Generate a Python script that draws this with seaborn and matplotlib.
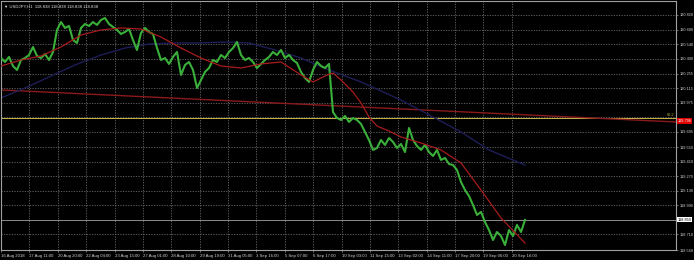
import numpy as np
import pandas as pd
import matplotlib
matplotlib.use("Agg")
import matplotlib.pyplot as plt
import seaborn as sns

# ---------------- data ----------------
symbol_title = "\u25BC USDJPY,H1  118.838 118.838 118.838 118.838"

# hourly closes, sampled (every ~4.7 bars)
close = [
    120.406, 120.368, 120.416, 120.329, 120.291, 120.387, 120.406, 120.435, 120.512, 120.426,
    120.406, 120.445, 120.387, 120.464, 120.676, 120.752, 120.695, 120.714, 120.579, 120.551,
    120.695, 120.733, 120.714, 120.752, 120.724, 120.772, 120.791, 120.733, 120.704, 120.676,
    120.637, 120.656, 120.685, 120.579, 120.483, 120.647, 120.695, 120.656, 120.637, 120.502,
    120.387, 120.406, 120.349, 120.416, 120.464, 120.243, 120.339, 120.368, 120.291, 120.118,
    120.195, 120.272, 120.310, 120.387, 120.368, 120.435, 120.406, 120.464, 120.502, 120.560,
    120.435, 120.387, 120.406, 120.368, 120.310, 120.349, 120.387, 120.416, 120.464, 120.435,
    120.483, 120.406, 120.435, 120.387, 120.358, 120.272, 120.214, 120.176, 120.291, 120.368,
    120.329, 120.310, 120.349, 119.887, 119.829, 119.810, 119.849, 119.791, 119.829, 119.810,
    119.772, 119.695, 119.618, 119.522, 119.541, 119.618, 119.570, 119.637, 119.599, 119.541,
    119.579, 119.502, 119.733, 119.618, 119.560, 119.522, 119.570, 119.502, 119.464, 119.522,
    119.426, 119.445, 119.387, 119.377, 119.329, 119.214, 119.137, 119.079, 118.993, 118.897,
    118.926, 118.829, 118.752, 118.656, 118.733, 118.695, 118.608, 118.752, 118.695, 118.801,
    118.733, 118.849,
]

# fast moving average (red), sampled at bar-sample positions
ma_fast_pos = [0, 5, 10, 15, 20, 25, 30, 35, 40, 45, 50, 55, 60, 65, 70, 75, 78, 81, 83,
               85, 88, 90, 92, 94, 97, 100, 105, 110, 115, 120, 125, 131]
ma_fast = [120.329, 120.387, 120.426, 120.512, 120.627, 120.676, 120.695, 120.685, 120.608,
           120.502, 120.406, 120.329, 120.310, 120.349, 120.368, 120.243, 120.176, 120.233,
           120.262, 120.195, 120.079, 119.974, 119.839, 119.752, 119.704, 119.647, 119.589,
           119.522, 119.397, 119.137, 118.868, 118.627]

# slow moving average (dark blue)
ma_slow_pos = [0, 6, 12, 18.5, 25, 31, 37, 43.5, 50, 56, 62, 68.5, 75, 82, 90, 100, 108, 115, 122, 131]
ma_slow = [120.022, 120.118, 120.224, 120.339, 120.435, 120.502, 120.541, 120.551, 120.551,
           120.560, 120.551, 120.483, 120.406, 120.291, 120.176, 120.002, 119.839, 119.695,
           119.522, 119.377]

# long trend line (dark red) end points
trend_pos = [0, 168.75]
trend_val = [120.099, 119.791]

level_yellow = 119.829
level_bid = 118.850
bid_label = "118.850"
level_red_label = "119.796"
fib_text = "80.2"

x_labels = ["16 Aug 2018", "17 Aug 11:00", "20 Aug 20:00", "22 Aug 04:00", "23 Aug 15:00",
            "27 Aug 01:00", "28 Aug 10:00", "29 Aug 19:00", "31 Aug 05:00", "3 Sep 16:00",
            "5 Sep 07:00", "6 Sep 17:00", "10 Sep 03:00", "11 Sep 15:00", "13 Sep 02:00",
            "14 Sep 11:00", "17 Sep 20:00", "19 Sep 06:00", "20 Sep 16:00"]
y_ticks = [120.820, 120.680, 120.540, 120.400, 120.255, 120.115, 119.975,
           119.695, 119.550, 119.410, 119.270, 119.130, 118.990, 118.710, 118.560]

# ---------------- figure ----------------
plt.rcParams["font.family"] = ["Liberation Sans", "DejaVu Sans"]
W, H = 694, 260
fig = plt.figure(figsize=(W / 100, H / 100), dpi=100, facecolor="black")
ax = fig.add_axes([1 / W, 10 / H, 675 / W, 249 / H])
ax.set_facecolor("black")

x_max = 168.75
y_min, y_max = 118.560, 118.560 + 249 / 104
ax.set_xlim(0, x_max)
ax.set_ylim(y_min, y_max)

tick_pos = np.arange(len(x_labels)) * (28.38 / 4)

grid_kw = dict(color="#6a6a6a", lw=0.6, ls=(0, (1.5, 1.6)), zorder=0)
for p in tick_pos[1:]:
    ax.axvline(p, **grid_kw)
for v in y_ticks + [119.835, 118.850]:
    ax.axhline(v, **grid_kw)

df_close = pd.DataFrame({"i": np.arange(len(close)), "price": close})
df_fast = pd.DataFrame({"i": ma_fast_pos, "price": ma_fast})
df_slow = pd.DataFrame({"i": ma_slow_pos, "price": ma_slow})
df_trend = pd.DataFrame({"i": trend_pos, "price": trend_val})

ax.axhline(level_bid, color="#8c8c8c", lw=0.7, zorder=1)
ax.axhline(level_yellow, color="#c9b64a", lw=0.7, zorder=1)
sns.lineplot(data=df_trend, x="i", y="price", ax=ax, color="#8b1a1a", lw=1.0, zorder=2)
sns.lineplot(data=df_slow, x="i", y="price", ax=ax, color="#1e1e58", lw=1.0, zorder=2)
sns.lineplot(data=df_close, x="i", y="price", ax=ax, color="#3aaf3a", lw=1.5, zorder=3)
sns.lineplot(data=df_fast, x="i", y="price", ax=ax, color="#a81c1c", lw=0.9, zorder=4)

ax.set_xlabel("")
ax.set_ylabel("")

for s in ax.spines.values():
    s.set_color("#a0a0a0")
    s.set_linewidth(0.8)

ax.yaxis.tick_right()
ax.set_yticks(y_ticks)
ax.set_yticklabels([f"{v:.3f}" for v in y_ticks])
ax.tick_params(axis="y", colors="#a0a0a0", labelcolor="#d0d0d0", labelsize=2.8,
               length=1.5, width=0.5, pad=0.8)
ax.set_xticks(tick_pos)
ax.set_xticklabels(x_labels, ha="left")
ax.tick_params(axis="x", colors="#a0a0a0", labelcolor="#d0d0d0", labelsize=3.1,
               length=1.5, width=0.5, pad=1.2)

# title
ax.text(0.004, 0.985, symbol_title, transform=ax.transAxes, color="#e0e0e0",
        fontsize=3.1, va="top", ha="left")

# right side price labels
ax.text(1.002, level_bid, bid_label, transform=ax.get_yaxis_transform(), color="black",
        fontsize=2.8, va="center", ha="left",
        bbox=dict(boxstyle="square,pad=0.15", fc="white", ec="none"))
ax.text(1.002, 119.800, level_red_label, transform=ax.get_yaxis_transform(), color="white",
        fontsize=2.8, va="center", ha="left",
        bbox=dict(boxstyle="square,pad=0.2", fc="#e00000", ec="none"))
ax.text(0.998, level_yellow + 0.01, fib_text, transform=ax.get_yaxis_transform(),
        color="#b0b030", fontsize=2.8, va="bottom", ha="right")

fig.savefig("out.png", dpi=100, facecolor="black")
